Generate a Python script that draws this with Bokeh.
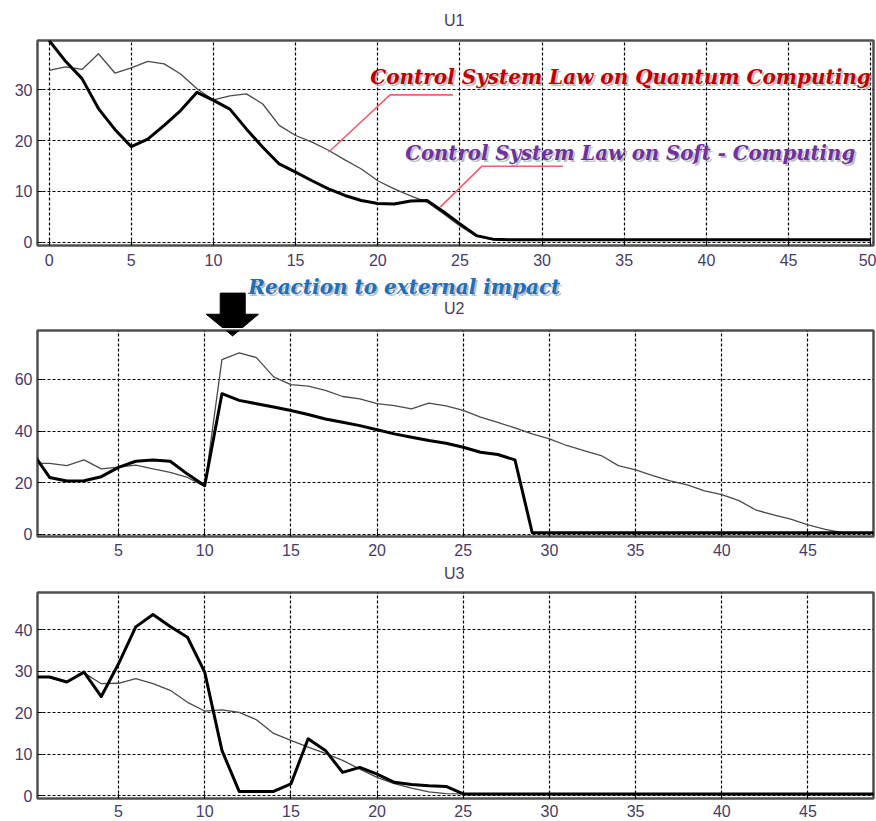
from bokeh.plotting import figure
from bokeh.layouts import column
from bokeh.models import Label, FixedTicker, Range1d
from bokeh.embed import file_html
from bokeh.resources import INLINE

# ---------------- data ----------------
x_u1 = list(range(0, 51))
u1_soft = [39.7, 35.6, 32.2, 26.3, 22.2, 18.8, 20.3, 23.0, 25.9, 29.5,
           27.9, 26.2, 22.3, 18.7, 15.4, 13.8, 12.1, 10.5, 9.2, 8.2,
           7.6, 7.5, 8.1, 8.2, 6.0, 3.6, 1.3, 0.6, 0.5, 0.5,
           0.5, 0.5, 0.5, 0.5, 0.5, 0.5, 0.5, 0.5, 0.5, 0.5,
           0.5, 0.5, 0.5, 0.5, 0.5, 0.5, 0.5, 0.5, 0.5, 0.5, 0.5]
u1_quantum = [33.8, 34.5, 34.0, 37.1, 33.3, 34.3, 35.6, 35.1, 33.1, 30.2,
              28.0, 28.8, 29.2, 27.2, 23.0, 21.0, 19.7, 18.1, 16.2, 14.4,
              12.1, 10.5, 9.1, 7.9, 5.6, 3.2, 1.2, 0.5, 0.5, 0.5,
              0.5, 0.5, 0.5, 0.5, 0.5, 0.5, 0.5, 0.5, 0.5, 0.5,
              0.5, 0.5, 0.5, 0.5, 0.5, 0.5, 0.5, 0.5, 0.5, 0.5, 0.5]

x_u23 = list(range(0, 50))
u2_soft = [31.7, 22.0, 20.6, 20.7, 22.3, 25.9, 28.3, 28.8, 28.3, 23.3,
           18.8, 54.5, 51.9, 50.6, 49.3, 48.0, 46.4, 44.7, 43.4, 42.1,
           40.5, 38.9, 37.6, 36.3, 35.3, 33.7, 31.8, 30.9, 28.8, 0.6,
           0.6, 0.6, 0.6, 0.6, 0.6, 0.6, 0.6, 0.6, 0.6, 0.6,
           0.6, 0.6, 0.6, 0.6, 0.6, 0.6, 0.6, 0.6, 0.6, 0.6]
u2_quantum = [27.5, 27.5, 26.6, 28.8, 25.3, 26.0, 26.8, 25.3, 24.0, 22.0,
              18.5, 67.7, 70.3, 68.5, 61.0, 58.0, 57.4, 55.8, 53.4, 52.5,
              50.6, 49.9, 48.6, 50.8, 49.8, 48.0, 45.4, 43.4, 41.2, 38.9,
              37.0, 34.4, 32.4, 30.5, 26.6, 24.9, 22.7, 20.7, 19.1, 16.8,
              15.3, 13.0, 9.3, 7.5, 5.8, 3.6, 1.9, 0.6, 0.6, 0.6]

u3_soft = [28.6, 28.6, 27.4, 29.8, 23.9, 31.8, 40.7, 43.7, 40.8, 38.2,
           29.8, 10.9, 1.0, 1.0, 1.0, 2.8, 13.7, 10.9, 5.6, 6.8,
           5.2, 3.2, 2.7, 2.4, 2.2, 0.4, 0.4, 0.4, 0.4, 0.4,
           0.4, 0.4, 0.4, 0.4, 0.4, 0.4, 0.4, 0.4, 0.4, 0.4,
           0.4, 0.4, 0.4, 0.4, 0.4, 0.4, 0.4, 0.4, 0.4, 0.4]
u3_quantum = [28.5, 28.5, 27.4, 29.6, 27.0, 27.1, 28.2, 27.0, 25.4, 22.5,
              20.4, 20.7, 20.1, 18.3, 15.0, 13.3, 11.7, 10.2, 8.5, 6.4,
              4.4, 2.9, 1.8, 0.9, 0.5, 0.4, 0.4, 0.4, 0.4, 0.4,
              0.4, 0.4, 0.4, 0.4, 0.4, 0.4, 0.4, 0.4, 0.4, 0.4,
              0.4, 0.4, 0.4, 0.4, 0.4, 0.4, 0.4, 0.4, 0.4, 0.4]

xticks = [0, 5, 10, 15, 20, 25, 30, 35, 40, 45, 50]
yticks_u1 = [0, 10, 20, 30]
yticks_u2 = [0, 20, 40, 60]
yticks_u3 = [0, 10, 20, 30, 40]

titles = ["U1", "U2", "U3"]
label_quantum = "Control System Law on Quantum Computing"
label_soft = "Control System Law on Soft - Computing"
label_impact = "Reaction to external impact"

# annotation geometry (data units of the panel they belong to)
lead_q_x = [17.0, 20.75, 24.57]
lead_q_y = [17.7, 29.0, 29.0]
lead_s_x = [23.8, 26.34, 31.27]
lead_s_y = [6.9, 14.96, 14.96]
arrow_x = [10.90, 12.35, 12.35, 13.12, 11.62, 10.09, 10.90]
arrow_y = [93.5, 93.5, 85.3, 85.3, 76.9, 85.3, 85.3]

TICK_COLOR = "#473a68"
TICK_FONT = "Liberation Sans"
W = 876
BL, BR = 37, 3


def make_fig(height, xr, yr, yticks, bottom, x_standoff):
    p = figure(width=W, height=height, x_range=Range1d(*xr), y_range=Range1d(*yr),
               output_backend="svg", toolbar_location=None,
               min_border_left=BL, min_border_right=BR,
               min_border_top=2, min_border_bottom=bottom)
    p.outline_line_color = "#505050"
    p.outline_line_width = 2.5
    p.background_fill_color = "white"
    p.border_fill_color = "white"
    for g in (p.xgrid, p.ygrid):
        g.grid_line_color = "black"
        g.grid_line_dash = "3 2"
        g.grid_line_width = 1.2
        g.grid_line_alpha = 1.0
    p.xaxis.ticker = FixedTicker(ticks=xticks)
    p.yaxis.ticker = FixedTicker(ticks=yticks)
    for ax in (p.xaxis, p.yaxis):
        ax.axis_line_color = None
        ax.major_tick_in = 5
        ax.major_tick_out = 0
        ax.major_tick_line_color = "black"
        ax.minor_tick_line_color = None
        ax.major_label_text_font = TICK_FONT
        ax.major_label_text_font_size = "16px"
        ax.major_label_text_color = TICK_COLOR
    p.xaxis.major_label_standoff = x_standoff
    p.yaxis.major_label_standoff = 5
    return p


def make_header(height, xr, yr):
    h = figure(width=W, height=height, x_range=Range1d(*xr), y_range=Range1d(*yr),
               x_axis_type=None, y_axis_type=None,
               output_backend="svg", toolbar_location=None,
               min_border_left=BL, min_border_right=BR,
               min_border_top=0, min_border_bottom=0)
    h.outline_line_color = None
    h.background_fill_color = "white"
    h.border_fill_color = "white"
    return h


def add_title(p, text, x, y):
    p.add_layout(Label(x=x, y=y, text=text, text_font=TICK_FONT, text_font_size="16px",
                       text_color=TICK_COLOR, text_align="center", text_baseline="middle"))


def add_fancy(p, text, x, y, color, size="20px"):
    p.add_layout(Label(x=x, y=y, x_offset=2, y_offset=-2, text=text, text_font="DejaVu Serif",
                       text_font_style="bold italic", text_font_size=size,
                       text_color="#8c8c8c", text_alpha=0.55, text_baseline="alphabetic"))
    p.add_layout(Label(x=x, y=y, text=text, text_font="DejaVu Serif",
                       text_font_style="bold italic", text_font_size=size,
                       text_color=color, text_baseline="alphabetic"))


# ---------------- U1 ----------------
xr1 = (-0.71, 50.17)
h1 = make_header(38, xr1, (40.09, 47.57))
add_title(h1, titles[0], 24.65, 43.64)

p1 = make_fig(237, xr1, (-0.65, 39.7), yticks_u1, 30, 8)
p1.line(x_u1, u1_quantum, line_color="#4a4a4a", line_width=1.3, line_join="round")
p1.line(x_u1, u1_soft, line_color="black", line_width=3, line_join="round")
p1.line(lead_q_x, lead_q_y, line_color="#f0606a", line_width=1.6)
p1.line(lead_s_x, lead_s_y, line_color="#f0606a", line_width=1.6)
add_fancy(p1, label_quantum, 19.54, 32.6, "#c00000")
add_fancy(p1, label_soft, 21.67, 17.5, "#7030a0", size="19.7px")

# ---------------- U2 ----------------
xr23 = (0.3, 48.8)
h2 = make_header(53, xr23, (79.78, 100.33))
h2.patch(arrow_x, arrow_y, fill_color="black", line_color="black", line_width=1)
add_fancy(h2, label_impact, 12.53, 95.8, "#1f6fba")
add_title(h2, titles[1], 24.48, 87.5)

p2 = make_fig(234, xr23, (-0.9, 79), yticks_u2, 26, 7)
p2.line(x_u23, u2_quantum, line_color="#4a4a4a", line_width=1.3, line_join="round")
p2.line(x_u23, u2_soft, line_color="black", line_width=3, line_join="round")
p2.patch(arrow_x, arrow_y, fill_color="black", line_color="black", line_width=1)

# ---------------- U3 ----------------
h3 = make_header(28, xr23, (49.48, 56.25))
add_title(h3, titles[2], 24.48, 53.7)

p3 = make_fig(231, xr23, (-0.7, 49), yticks_u3, 23, 6)
p3.line(x_u23, u3_quantum, line_color="#4a4a4a", line_width=1.3, line_join="round")
p3.line(x_u23, u3_soft, line_color="black", line_width=3, line_join="round")

layout = column(h1, p1, h2, p2, h3, p3, spacing=0)
open("out.html", "w").write(file_html(layout, INLINE))
